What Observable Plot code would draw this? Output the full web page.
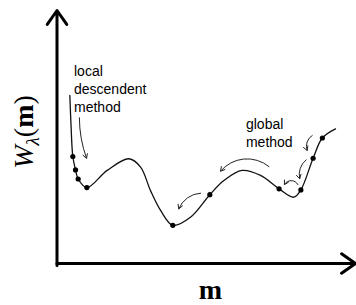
<!DOCTYPE html>
<html>
<head>
<meta charset="utf-8">
<script src="https://cdn.jsdelivr.net/npm/d3@7"></script>
<script src="https://cdn.jsdelivr.net/npm/@observablehq/plot@0.6"></script>
<style>
  html, body { margin: 0; padding: 0; background: #fff; }
  #chart svg { display: block; }
</style>
</head>
<body>
<div id="chart"></div>
<script>
// Misfit curve W(m), normalised units (m: 0..10, W: 0..10)
const curveM = [0.43, 0.47, 0.53, 0.62, 0.71, 1.00, 1.68, 2.41, 2.80, 3.13, 3.47, 3.88, 4.47, 5.12, 5.59, 6.20, 6.82, 7.44, 7.93, 8.17, 8.58, 8.89, 9.33];
const curveW = [6.64, 5.46, 4.23, 3.70, 3.34, 3.00, 3.68, 4.14, 3.81, 2.89, 2.10, 1.51, 1.83, 2.72, 3.28, 3.68, 3.48, 2.95, 2.62, 2.91, 4.16, 4.96, 5.32];

// Iterates (dots on the curve)
const dotM = [0.53, 0.62, 0.71, 1.00, 3.88, 5.12, 7.44, 8.17, 8.58, 8.89];
const dotW = [4.23, 3.70, 3.34, 3.00, 1.51, 2.72, 2.95, 2.91, 4.16, 4.96];

// Annotation arrows (start -> end) and their bend
const arrowM1 = [0.75, 7.10, 4.81, 8.55, 8.35, 8.07];
const arrowW1 = [5.76, 3.83, 2.78, 5.06, 4.10, 3.12];
const arrowM2 = [0.99, 5.48, 4.08, 8.38, 8.13, 7.62];
const arrowW2 = [4.16, 3.65, 2.16, 4.47, 3.35, 3.12];
const arrowBend = [-10, -45, -33, -40, -33, -60];

// Labels
const annotText = ["local\ndescendent\nmethod", "global\nmethod"];
const annotM = [0.57, 6.33];
const annotW = [5.99, 4.60];
const yLabel = "Wλ(m)";
const xLabel = "m";

const curve = curveM.map((m, i) => ({m, w: curveW[i]}));
const dots = dotM.map((m, i) => ({m, w: dotW[i]}));
const arrows = arrowM1.map((m, i) => ({x1: m, y1: arrowW1[i], x2: arrowM2[i], y2: arrowW2[i], bend: arrowBend[i]}));
const annots = annotText.map((t, i) => ({t, m: annotM[i], w: annotW[i]}));
const axes = [{x1: 0, y1: -0.08, x2: 0, y2: 10}, {x1: 0, y1: 0, x2: 10, y2: 0}];

const chart = Plot.plot({
  width: 356,
  height: 305,
  margin: 0,
  x: {domain: [0, 10], range: [56.5, 355], axis: null},
  y: {domain: [0, 10], range: [263, 10], axis: null},
  marks: [
    Plot.arrow(axes, {x1: "x1", y1: "y1", x2: "x2", y2: "y2", stroke: "#000", strokeWidth: 3, headLength: 8.5, headAngle: 70}),
    Plot.line(curve, {x: "m", y: "w", curve: "catmull-rom", stroke: "#111", strokeWidth: 1.3}),
    Plot.dot(dots, {x: "m", y: "w", r: 2.6, fill: "#000", stroke: "none"}),
    ...arrows.map(a => Plot.arrow([a], {x1: "x1", y1: "y1", x2: "x2", y2: "y2", bend: a.bend, stroke: "#222", strokeWidth: 1, headLength: 7})),
    Plot.text(annots, {x: "m", y: "w", text: "t", textAnchor: "start", lineAnchor: "bottom", lineHeight: 1.27, fontSize: 14, fontFamily: "Liberation Sans, Arial, Helvetica, sans-serif", fill: "#000"}),
    Plot.text([yLabel], {x: -0.79, y: 5.2, text: d => d, rotate: -90, textAnchor: "middle", lineAnchor: "bottom", fontSize: 28, fontFamily: "Liberation Serif, Times New Roman, serif", fill: "#000", className: "ylab"}),
    Plot.text([xLabel], {x: 5.14, y: -1.42, text: d => d, textAnchor: "middle", lineAnchor: "bottom", fontSize: 28, fontWeight: "bold", fontFamily: "Liberation Serif, Times New Roman, serif", fill: "#000"})
  ]
});

document.getElementById("chart").appendChild(chart);

// Rich formatting of the y label: italic W, subscript lambda, bold m
const yt = d3.select(chart).select("g.ylab text");
const node = yt.node();
if (node) {
  node.textContent = "";
  yt.append("tspan").attr("font-style", "italic").text("W");
  yt.append("tspan").attr("font-size", 19).attr("font-style", "italic").attr("dy", 6).text("λ");
  yt.append("tspan").attr("dy", -6).text("(");
  yt.append("tspan").attr("font-weight", "bold").text("m");
  yt.append("tspan").text(")");
}
</script>
</body>
</html>
